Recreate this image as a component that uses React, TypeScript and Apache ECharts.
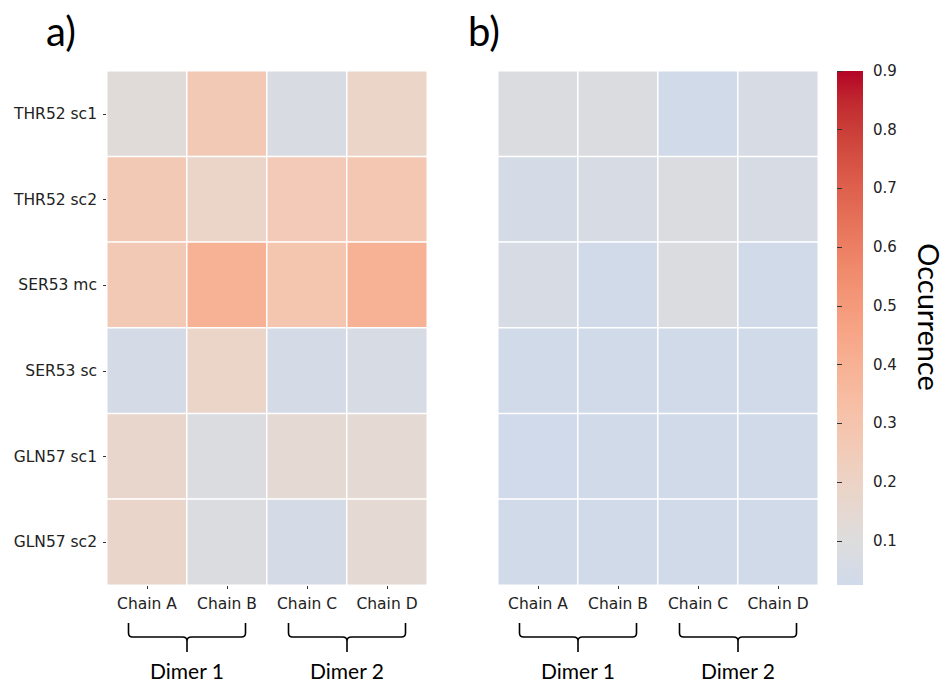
import React, { useEffect, useRef } from "react";
import * as echarts from "echarts";

const rowLabels = ["THR52 sc1", "THR52 sc2", "SER53 mc", "SER53 sc", "GLN57 sc1", "GLN57 sc2"];
const colLabels = ["Chain A", "Chain B", "Chain C", "Chain D"];
const groupLabels = ["Dimer 1", "Dimer 2"];
const panelLabels = ["a)", "b)"];
const colorbarTitle = "Occurrence";

// rows x columns (Chain A..D)
const valuesA = [
  [0.12, 0.27, 0.07, 0.19],
  [0.27, 0.19, 0.26, 0.28],
  [0.27, 0.40, 0.29, 0.40],
  [0.05, 0.19, 0.05, 0.06],
  [0.17, 0.08, 0.14, 0.14],
  [0.18, 0.08, 0.05, 0.14],
];
const valuesB = [
  [0.09, 0.08, 0.03, 0.06],
  [0.05, 0.06, 0.08, 0.06],
  [0.06, 0.03, 0.08, 0.03],
  [0.03, 0.03, 0.03, 0.03],
  [0.025, 0.03, 0.03, 0.03],
  [0.03, 0.03, 0.03, 0.03],
];
const colorMin = 0.025;
const colorMax = 0.9;
const colorCenter = 0.1;
const colorTicks = [0.1, 0.2, 0.3, 0.4, 0.5, 0.6, 0.7, 0.8, 0.9];

// matplotlib coolwarm (Moreland) table
const coolwarm: number[][] = [
  [59, 76, 192], [68, 90, 204], [77, 104, 215], [87, 117, 225], [98, 130, 234],
  [108, 142, 241], [119, 154, 247], [130, 165, 251], [141, 176, 254], [152, 185, 255],
  [163, 194, 255], [174, 201, 253], [184, 208, 249], [194, 213, 244], [204, 217, 238],
  [213, 219, 230], [221, 221, 221], [229, 216, 209], [236, 211, 197], [241, 204, 185],
  [245, 196, 173], [247, 187, 160], [247, 177, 148], [247, 166, 135], [244, 154, 123],
  [241, 141, 111], [236, 127, 99], [229, 112, 88], [222, 96, 77], [213, 80, 66],
  [203, 62, 56], [192, 40, 47], [180, 4, 38],
];
function cw(t: number): string {
  const x = Math.max(0, Math.min(1, t)) * (coolwarm.length - 1);
  const i = Math.min(coolwarm.length - 2, Math.floor(x));
  const f = x - i;
  const c = coolwarm[i].map((a, k) => Math.round(a + (coolwarm[i + 1][k] - a) * f));
  return `rgb(${c[0]},${c[1]},${c[2]})`;
}
const N_COLORS = 48;
function buildColors(): string[] {
  const lo = 2 * colorCenter - colorMax;
  const out: string[] = [];
  for (let k = 0; k < N_COLORS; k++) {
    const v = colorMin + ((colorMax - colorMin) * k) / (N_COLORS - 1);
    out.push(cw((v - lo) / (colorMax - lo)));
  }
  return out;
}

const bracePath =
  "M0,0 L0,10 Q0,14 4,14 L54,14 Q58.5,14 58.5,18 L58.5,29 M58.5,18 Q58.5,14 63,14 L113,14 Q117,14 117,10 L117,0";

let registered = false;

function toData(m: number[][]) {
  const d: number[][] = [];
  m.forEach((row, r) => row.forEach((v, c) => d.push([c, r, v])));
  return d;
}

export default function App() {
  const ref = useRef<HTMLDivElement>(null);
  useEffect(() => {
    if (!ref.current) return;
    document.body.style.margin = "0";
    if (!registered) {
      echarts.graphic.registerShape("brace", echarts.graphic.extendPath(bracePath, {}) as any);
      registered = true;
    }
    const chart = echarts.init(ref.current, null, { renderer: "svg" });
    const font = "DejaVu Sans";
    const gridLefts = [107, 498];
    const gridTop = 71;
    const gridH = 514;
    const cbLeft = 837;
    const cbW = 26;
    const colors = buildColors();
    const makeX = (i: number) => ({
      type: "category",
      gridIndex: i,
      data: colLabels,
      axisLine: { show: false },
      axisTick: { show: true, alignWithLabel: true, length: 4, lineStyle: { color: "#333" } },
      axisLabel: { color: "#222", fontSize: 15.5, fontFamily: font, margin: 11 },
      splitLine: { show: false },
    });
    const makeY = (i: number, labels: boolean) => ({
      type: "category",
      gridIndex: i,
      data: rowLabels,
      inverse: true,
      axisLine: { show: false },
      axisTick: { show: labels, alignWithLabel: true, length: 4, lineStyle: { color: "#333" } },
      axisLabel: { show: labels, color: "#222", fontSize: 15.5, fontFamily: font, margin: 10 },
      splitLine: { show: false },
    });
    const graphics: any[] = [];
    panelLabels.forEach((t, i) => {
      graphics.push({
        type: "text",
        x: i === 0 ? 46 : 468,
        y: 31,
        style: { text: t, fontSize: 40, fontFamily: "Lato", fill: "#000", align: "left", verticalAlign: "middle" },
      });
    });
    // colorbar
    graphics.push({
      type: "rect",
      z: 0,
      shape: { x: cbLeft, y: gridTop, width: cbW, height: gridH },
      style: {
        fill: new echarts.graphic.LinearGradient(
          0, 1, 0, 0,
          colors.map((c, k) => ({ offset: k / (colors.length - 1), color: c }))
        ),
      },
    });
    graphics.push({
      type: "text",
      x: 929,
      y: 317,
      rotation: -Math.PI / 2,
      style: {
        text: colorbarTitle,
        fontSize: 29,
        fontFamily: "Lato",
        fill: "#000",
        align: "center",
        verticalAlign: "middle",
      },
    });
    gridLefts.forEach((gl) => {
      groupLabels.forEach((g, j) => {
        const cx = gl + 80 + j * 160;
        graphics.push({
          type: "brace",
          x: cx - 58.5,
          y: 623,
          style: { fill: "none", stroke: "#000", lineWidth: 1.6 },
        });
        graphics.push({
          type: "text",
          x: cx,
          y: 670,
          style: {
            text: g,
            fontSize: 21,
            fontFamily: "Lato",
            fill: "#000",
            align: "center",
            verticalAlign: "middle",
          },
        });
      });
    });
    const option: any = {
      animation: false,
      backgroundColor: "#fff",
      textStyle: { fontFamily: font },
      grid: [
        { left: gridLefts[0], top: gridTop, width: 320, height: gridH },
        { left: gridLefts[1], top: gridTop, width: 320, height: gridH },
        { left: cbLeft, top: gridTop, width: cbW, height: gridH },
      ],
      xAxis: [
        makeX(0),
        makeX(1),
        { type: "value", gridIndex: 2, show: false, min: 0, max: 1 },
      ],
      yAxis: [
        makeY(0, true),
        makeY(1, false),
        {
          type: "value",
          gridIndex: 2,
          position: "right",
          min: colorMin,
          max: colorMax,
          axisLine: { show: false },
          splitLine: { show: false },
          axisTick: { show: true, length: 5, lineStyle: { color: "#333" }, customValues: colorTicks },
          axisLabel: {
            color: "#222",
            fontSize: 15,
            fontFamily: font,
            margin: 10,
            customValues: colorTicks,
            formatter: (v: number) => v.toFixed(1),
          },
        },
      ],
      visualMap: {
        type: "continuous",
        show: false,
        min: colorMin,
        max: colorMax,
        seriesIndex: [0, 1],
        inRange: { color: colors },
      },
      series: [
        {
          type: "heatmap",
          xAxisIndex: 0,
          yAxisIndex: 0,
          data: toData(valuesA),
          itemStyle: { borderColor: "#fff", borderWidth: 1.5 },
        },
        {
          type: "heatmap",
          xAxisIndex: 1,
          yAxisIndex: 1,
          data: toData(valuesB),
          itemStyle: { borderColor: "#fff", borderWidth: 1.5 },
        },
        { type: "scatter", xAxisIndex: 2, yAxisIndex: 2, data: [] },
      ],
      graphic: graphics,
    };
    chart.setOption(option);
    return () => chart.dispose();
  }, []);
  return <div ref={ref} style={{ width: 945, height: 681 }} />;
}
